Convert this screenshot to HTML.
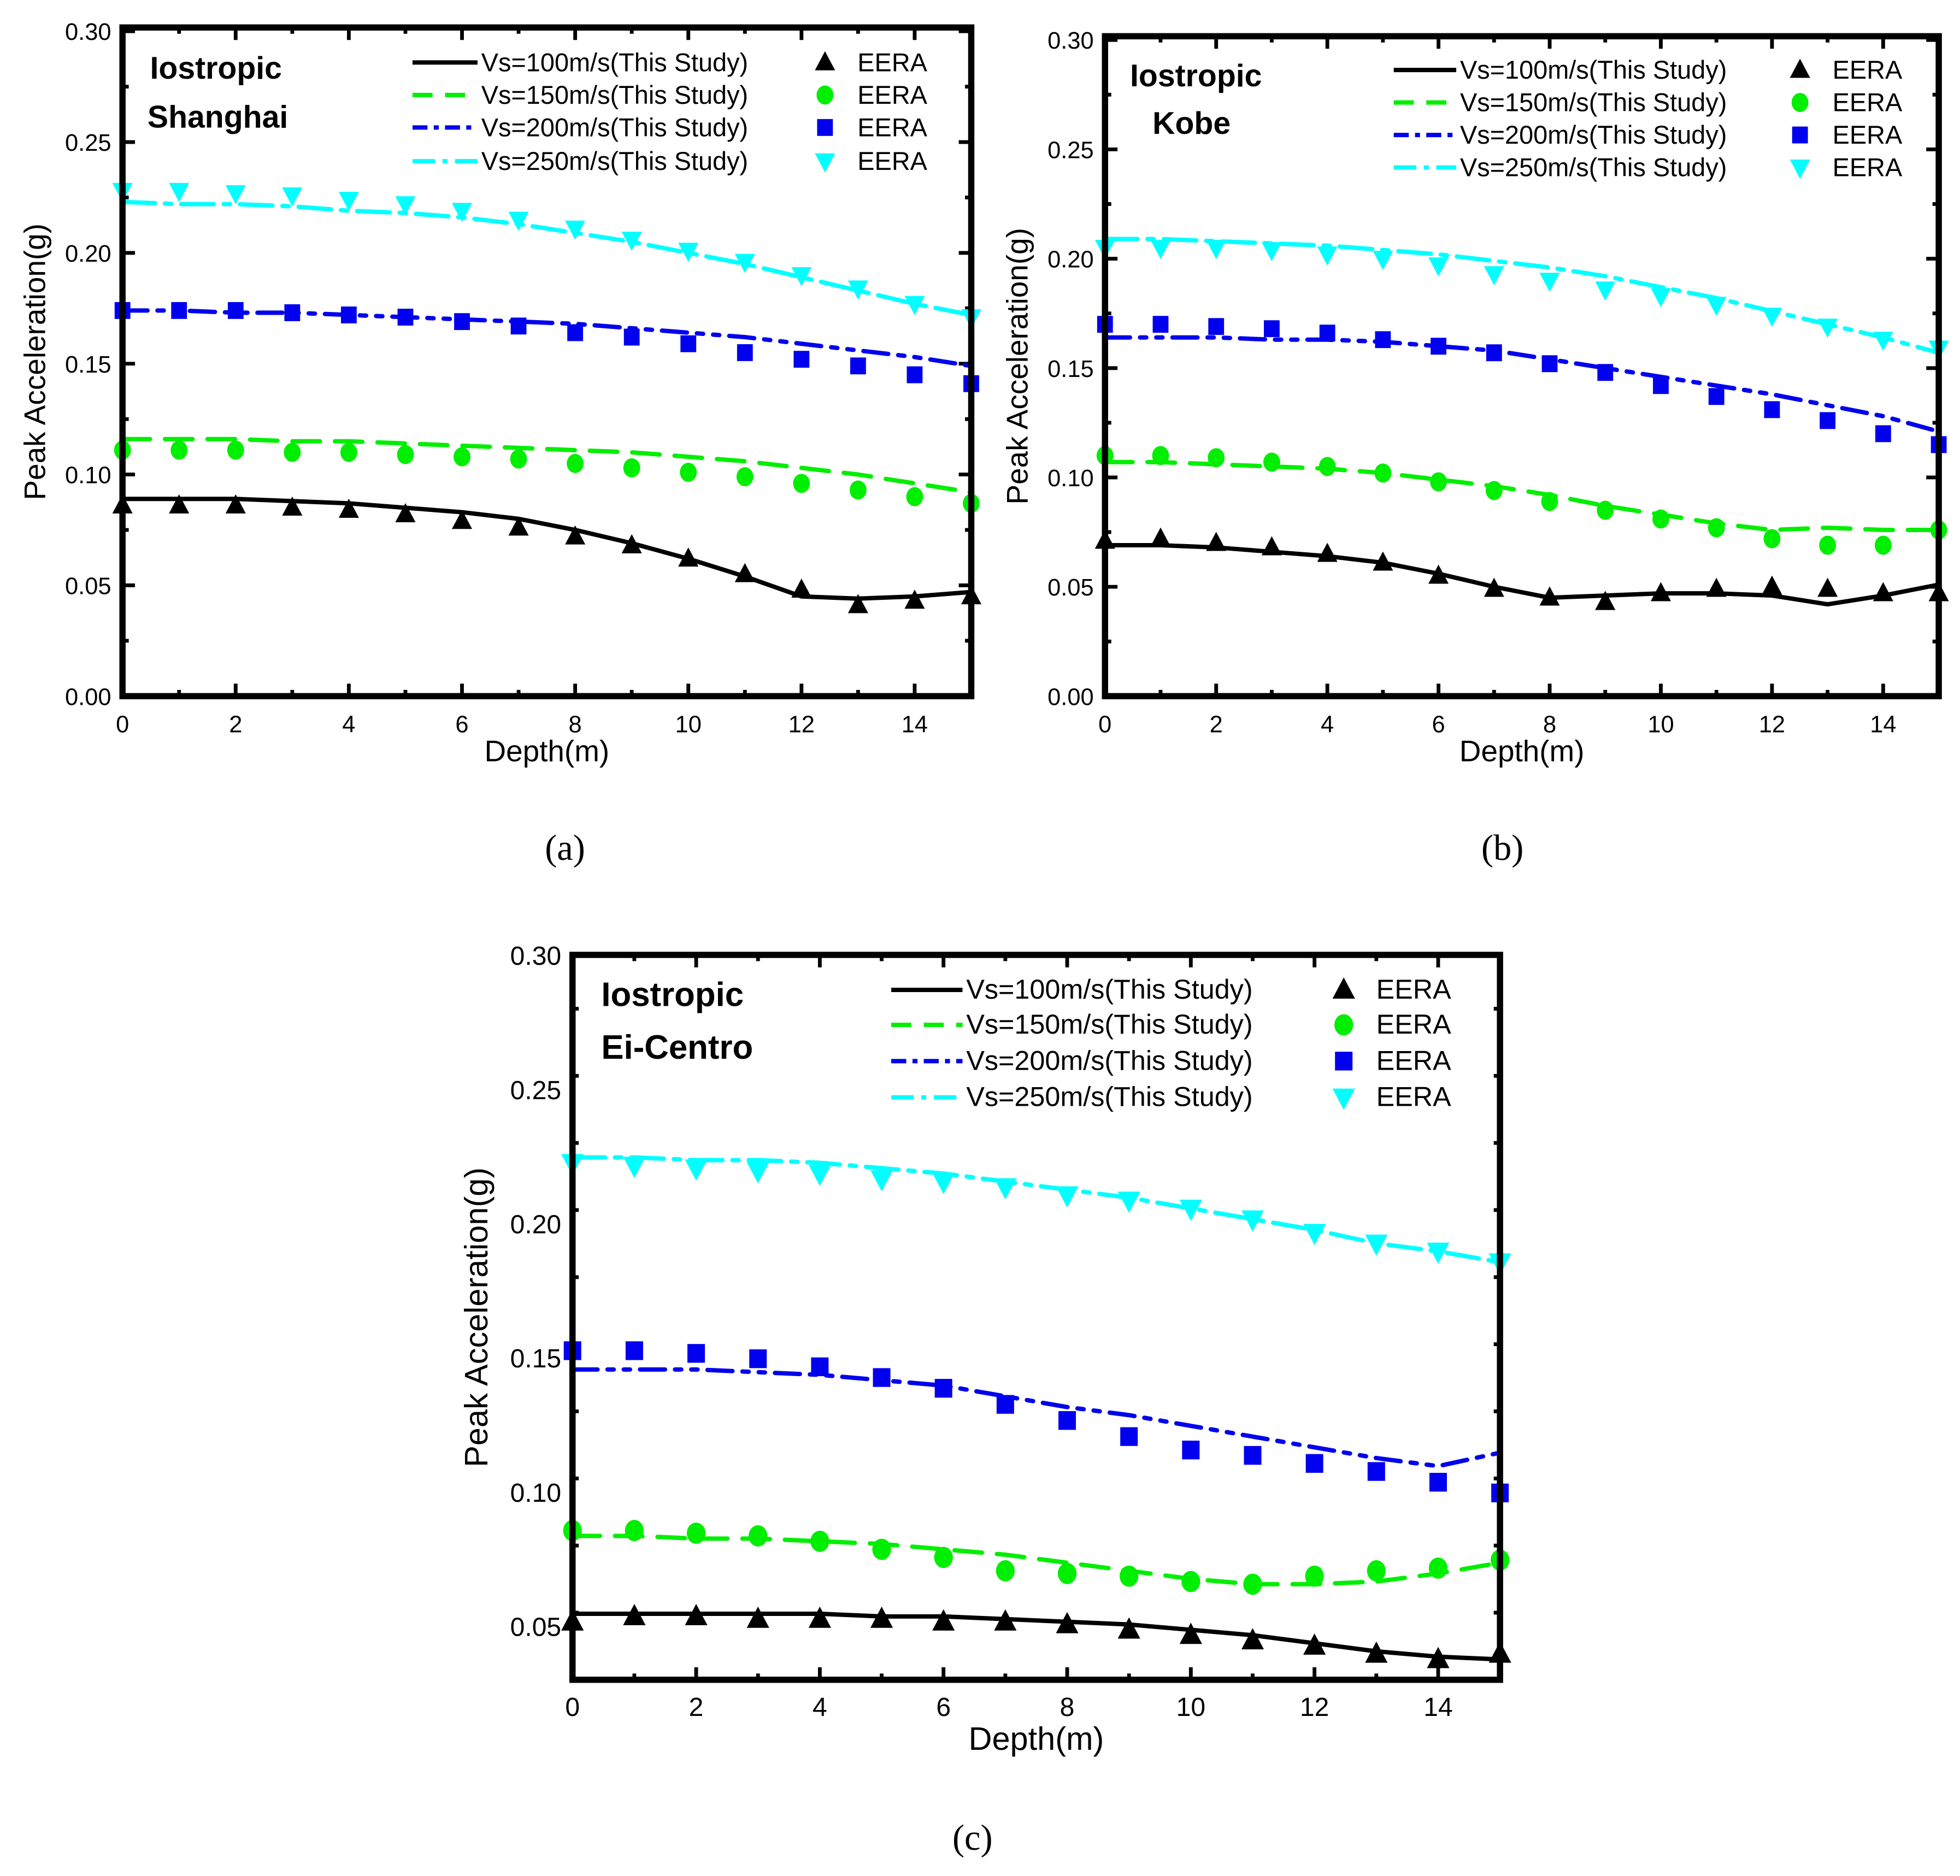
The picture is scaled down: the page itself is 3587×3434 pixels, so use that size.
<!DOCTYPE html>
<html><head><meta charset="utf-8"><style>
html,body{margin:0;padding:0;background:#fff;}
svg{display:block;}
</style></head><body>
<svg id="fig" xmlns="http://www.w3.org/2000/svg" width="3587" height="3434" viewBox="0 0 1568 1501" preserveAspectRatio="none" font-family="Liberation Sans, Arial, sans-serif">
<rect width="1568" height="1501" fill="#fff"/>
</svg>
<script>
const depths = [0,1,2,3,4,5,6,7,8,9,10,11,12,13,14,15];
// Panel a (Shanghai)
const aLine100 = [0.089,0.089,0.089,0.088,0.087,0.085,0.083,0.080,0.075,0.069,0.062,0.054,0.045,0.044,0.045,0.047];
const aLine150 = [0.116,0.116,0.116,0.115,0.115,0.114,0.113,0.112,0.111,0.110,0.108,0.106,0.103,0.100,0.096,0.092];
const aLine200 = [0.174,0.174,0.173,0.173,0.172,0.171,0.170,0.169,0.168,0.166,0.164,0.162,0.159,0.156,0.153,0.149];
const aLine250 = [0.223,0.222,0.222,0.221,0.219,0.218,0.216,0.213,0.209,0.205,0.200,0.195,0.189,0.183,0.177,0.172];
const aEera100 = [0.086,0.086,0.086,0.085,0.084,0.082,0.079,0.076,0.072,0.068,0.062,0.055,0.048,0.041,0.043,0.045];
const aEera150 = [0.111,0.111,0.111,0.110,0.110,0.109,0.108,0.107,0.105,0.103,0.101,0.099,0.096,0.093,0.090,0.087];
const aEera200 = [0.174,0.174,0.174,0.173,0.172,0.171,0.169,0.167,0.164,0.162,0.159,0.155,0.152,0.149,0.145,0.141];
const aEera250 = [0.228,0.228,0.227,0.226,0.224,0.222,0.219,0.215,0.211,0.206,0.201,0.196,0.190,0.184,0.177,0.171];
// Panel b (Kobe)
const bLine100 = [0.069,0.069,0.068,0.066,0.064,0.061,0.056,0.050,0.045,0.046,0.047,0.047,0.046,0.042,0.046,0.051];
const bLine150 = [0.107,0.107,0.106,0.105,0.104,0.102,0.099,0.096,0.092,0.087,0.083,0.079,0.076,0.077,0.076,0.076];
const bLine200 = [0.164,0.164,0.164,0.163,0.163,0.162,0.160,0.158,0.154,0.150,0.146,0.142,0.138,0.133,0.128,0.121];
const bLine250 = [0.209,0.209,0.208,0.207,0.206,0.204,0.202,0.199,0.196,0.192,0.187,0.182,0.176,0.170,0.164,0.157];
const bEera100 = [0.071,0.072,0.070,0.068,0.065,0.061,0.055,0.049,0.045,0.043,0.047,0.049,0.050,0.049,0.047,0.047];
const bEera150 = [0.110,0.110,0.109,0.107,0.105,0.102,0.098,0.094,0.089,0.085,0.081,0.077,0.072,0.069,0.069,0.076];
const bEera200 = [0.170,0.170,0.169,0.168,0.166,0.163,0.160,0.157,0.152,0.148,0.142,0.137,0.131,0.126,0.120,0.115];
const bEera250 = [0.205,0.205,0.205,0.204,0.202,0.200,0.197,0.193,0.190,0.186,0.183,0.179,0.174,0.169,0.163,0.159];
// Panel c (Ei-Centro)
const cLine100 = [0.055,0.055,0.055,0.055,0.055,0.054,0.054,0.053,0.052,0.051,0.049,0.047,0.044,0.041,0.039,0.038];
const cLine150 = [0.084,0.084,0.083,0.083,0.082,0.081,0.079,0.077,0.074,0.071,0.068,0.066,0.066,0.067,0.070,0.074];
const cLine200 = [0.146,0.146,0.146,0.145,0.144,0.142,0.140,0.136,0.132,0.129,0.125,0.121,0.117,0.113,0.110,0.115];
const cLine250 = [0.225,0.225,0.224,0.224,0.223,0.221,0.219,0.216,0.213,0.210,0.206,0.202,0.198,0.193,0.190,0.186];
const cEera100 = [0.052,0.054,0.054,0.053,0.053,0.053,0.052,0.052,0.051,0.049,0.047,0.045,0.043,0.040,0.038,0.040];
const cEera150 = [0.086,0.086,0.085,0.084,0.082,0.079,0.076,0.071,0.070,0.069,0.067,0.066,0.069,0.071,0.072,0.075];
const cEera200 = [0.153,0.153,0.152,0.150,0.147,0.143,0.139,0.133,0.127,0.121,0.116,0.114,0.111,0.108,0.104,0.100];
const cEera250 = [0.223,0.222,0.221,0.220,0.219,0.217,0.216,0.214,0.211,0.209,0.206,0.202,0.197,0.193,0.190,0.186];
const xTickLabels = ["0","2","4","6","8","10","12","14"];
const yTickLabelsAB = ["0.00","0.05","0.10","0.15","0.20","0.25","0.30"];
const yTickLabelsC = ["0.05","0.10","0.15","0.20","0.25","0.30"];
const legendLabels = ["Vs=100m/s(This Study)","Vs=150m/s(This Study)","Vs=200m/s(This Study)","Vs=250m/s(This Study)"];

const NS="http://www.w3.org/2000/svg";
const svg=document.getElementById('fig');
function mk(tag,attrs,parent){const e=document.createElementNS(NS,tag);for(const k in attrs)e.setAttribute(k,attrs[k]);(parent||svg).appendChild(e);return e;}
const colors=["#000000","#00ee00","#0000ee","#00ffff"];
const dashes=["none","22 12","20 8 5 8 5 8","26 8 5 8"];
const markers=["tri","circ","sq","dtri"];
function marker(g,type,cx,cy,col,s){
  let e;
  if(type==="tri") e=mk('polygon',{points:`${cx},${cy-s} ${cx-s*0.9},${cy+s*0.7} ${cx+s*0.9},${cy+s*0.7}`,fill:col},g);
  else if(type==="dtri") e=mk('polygon',{points:`${cx},${cy+s} ${cx-s*0.9},${cy-s*0.7} ${cx+s*0.9},${cy-s*0.7}`,fill:col},g);
  else if(type==="circ") e=mk('ellipse',{cx:cx,cy:cy,rx:s*0.75,ry:s*0.85,fill:col},g);
  else e=mk('rect',{x:cx-s*0.7,y:cy-s*0.75,width:s*1.4,height:s*1.5,fill:col},g);
  return e;
}
function panel(p){
  const g=mk('g',{});
  
  
  const xs=v=>p.x0+(v-0)/(15-0)*(p.x1-p.x0);
  const ys=v=>p.y1-(v-p.ymin)/(0.30-p.ymin)*(p.y1-p.yTop);
  for(let d=0;d<=15;d++){
    const len=d%2===0?10:5, x=xs(d);
    const t1=mk('line',{x1:x,y1:p.y1,x2:x,y2:p.y1-len,stroke:'#000','stroke-width':3},g);
    
    
    mk('line',{x1:x,y1:p.boxTop,x2:x,y2:p.boxTop+len,stroke:'#000','stroke-width':3},g);
  }
  for(let v=p.ymin;v<=0.30001;v+=0.025){
    const major=Math.abs((v/0.05)-Math.round(v/0.05))<1e-6, len=major?10:5, y=ys(v);
    const t=mk('line',{x1:p.x0,y1:y,x2:p.x0+len,y2:y,stroke:'#000','stroke-width':3},g);
    
    
    mk('line',{x1:p.x1,y1:y,x2:p.x1-len,y2:y,stroke:'#000','stroke-width':3},g);
  }
  xTickLabels.forEach(l=>{
    const t=mk('text',{x:xs(+l),y:p.y1+29,'font-size':p.tkfs,'text-anchor':'middle'},g);t.textContent=l;
    
    
  });
  p.yLabels.forEach(l=>{
    const t=mk('text',{x:p.x0-9,y:ys(+l)+7,'font-size':p.tkfs,'text-anchor':'end'},g);t.textContent=l;
    
    
  });
  const xt=mk('text',{x:(p.x0+p.x1)/2,y:p.y1+p.xtOff,'font-size':p.atfs,'text-anchor':'middle'},g);xt.textContent="Depth(m)";
  
  
  const yc=(p.boxTop+p.y1)/2, yx=p.x0-p.ytOff;
  const yt=mk('text',{x:yx,y:yc,'font-size':p.atfs,'text-anchor':'middle',transform:`rotate(-90 ${yx} ${yc})`},g);
  yt.setAttribute('dy','8');yt.textContent="Peak Acceleration(g)";
  
  
  p.lines.forEach((arr,i)=>{
    const pts=depths.map((d,k)=>`${xs(d)},${ys(arr[k])}`).join(' ');
    const l=mk('polyline',{points:pts,fill:'none',stroke:colors[i],'stroke-width':3.5,'stroke-dasharray':dashes[i],'stroke-linecap':'round'},g);
    
    
  });
  p.eera.forEach((arr,i)=>{
    depths.forEach((d,k)=>{
      const m=marker(g,markers[i],xs(d),ys(arr[k]),colors[i],p.ms);
      
      
    });
  });
  const fr=mk('rect',{x:p.x0,y:p.boxTop,width:p.x1-p.x0,height:p.y1-p.boxTop,fill:'none',stroke:'#000','stroke-width':5},g);
  
  
  p.title.forEach((s,i)=>{
    const t=mk('text',{x:p.tx[i],y:p.ty[i],'font-size':p.tfs,'font-weight':'bold'},g);t.textContent=s;
    
    
  });
  legendLabels.forEach((s,i)=>{
    const y=p.ly[i];
    const ln=mk('line',{x1:p.lx1,y1:y,x2:p.lx2,y2:y,stroke:colors[i],'stroke-width':3.5,'stroke-dasharray':i===0?'none':(i===1?'16 10':(i===2?'12 5 4 5':'18 6 4 6'))},g);
    
    
    const t=mk('text',{x:p.lx2+3,y:y+7,'font-size':p.lfs},g);t.textContent=s;
    
    
    const m=marker(g,markers[i],p.mx,y,colors[i],p.ms);
    
    
    const t2=mk('text',{x:p.mx+26,y:y+7,'font-size':p.lfs},g);t2.textContent="EERA";
    
    
  });
  const cap=mk('text',{x:p.cap[0],y:p.cap[1],'font-size':29,'text-anchor':'middle','font-family':'Liberation Serif, serif'},g);
  cap.textContent=p.capText;
  
  
}
panel({name:'panel-a-shanghai',x0:98,x1:777,y1:557,yTop:25,boxTop:22,ymin:0,yLabels:yTickLabelsAB,
  lines:[aLine100,aLine150,aLine200,aLine250],eera:[aEera100,aEera150,aEera200,aEera250],
  title:["Iostropic","Shanghai"],tx:[120,118],ty:[63,102],tfs:25,tkfs:19,atfs:24,xtOff:52,ytOff:70,
  lx1:330,lx2:382,ly:[50,76,102,129],mx:660,lfs:20.5,ms:9,cap:[452,688],capText:"(a)"});
panel({name:'panel-b-kobe',x0:884,x1:1551,y1:557,yTop:32,boxTop:29,ymin:0,yLabels:yTickLabelsAB,
  lines:[bLine100,bLine150,bLine200,bLine250],eera:[bEera100,bEera150,bEera200,bEera250],
  title:["Iostropic","Kobe"],tx:[904,922],ty:[69,107],tfs:25,tkfs:19,atfs:24,xtOff:52,ytOff:70,
  lx1:1115,lx2:1165,ly:[56,82,108,134],mx:1440,lfs:20.5,ms:9,cap:[1202,688],capText:"(b)"});
panel({name:'panel-c-ei-centro',x0:458,x1:1200,y1:1344,yTop:765,boxTop:764,ymin:0.0304,yLabels:yTickLabelsC,
  lines:[cLine100,cLine150,cLine200,cLine250],eera:[cEera100,cEera150,cEera200,cEera250],
  title:["Iostropic","Ei-Centro"],tx:[481,481],ty:[805,847],tfs:27,tkfs:21,atfs:26,xtOff:56,ytOff:76,
  lx1:713,lx2:770,ly:[792,820,849,878],mx:1075,lfs:22,ms:10,cap:[778,1480],capText:"(c)"});
</script>
</body></html>
